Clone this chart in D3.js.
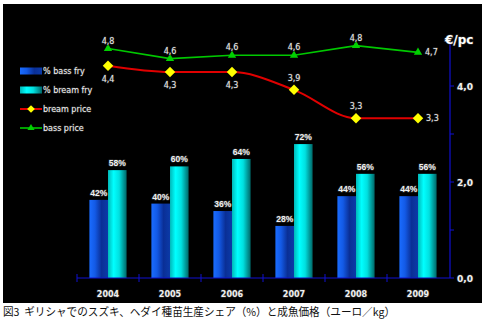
<!DOCTYPE html>
<html><head><meta charset="utf-8">
<script src="https://cdn.jsdelivr.net/npm/d3@7"></script>
<style>
html,body{margin:0;padding:0;background:#fff;}
svg{display:block;}
</style></head>
<body>
<svg id="c" width="486" height="325"></svg>
<script>
const years = ["2004","2005","2006","2007","2008","2009"];
const bassFry = [42,40,36,28,44,44];
const breamFry = [58,60,64,72,56,56];
const bassPrice = [4.78,4.57,4.64,4.64,4.84,4.70];
const breamPrice = [4.42,4.29,4.29,3.92,3.33,3.33];
const priceTicks = [0,1,2,3,4];
const priceTickLabels = ["0,0","","2,0","","4,0"];
const legendItems = ["% bass fry","% bream fry","bream price","bass price"];
const caption = "図3\u00a0\u00a0ギリシャでのスズキ、ヘダイ種苗生産シェア（%）と成魚価格（ユーロ／kg）";

const svg = d3.select("#c");
const defs = svg.append("defs");
function grad(id, stops){
  const g = defs.append("linearGradient").attr("id",id).attr("x1","0").attr("x2","1").attr("y1","0").attr("y2","0");
  stops.forEach(s=>g.append("stop").attr("offset",s[0]).attr("stop-color",s[1]));
}
grad("gBass",[[0,"#1a6cff"],[0.3,"#135ae6"],[0.65,"#0a2f96"],[1,"#0b3aa8"]]);
grad("gBream",[[0,"#00b8b8"],[0.3,"#00ffff"],[0.6,"#00e0e0"],[1,"#006868"]]);

svg.append("rect").attr("x",3).attr("y",4).attr("width",479).attr("height",299).attr("fill","#000");

const x0 = 77, x1 = 449, yBase = 278;
const x = d3.scaleBand().domain(years).range([x0,x1]).paddingInner(0.4).paddingOuter(0.2);
const xs = d3.scaleBand().domain(["bass","bream"]).range([0,x.bandwidth()]);
const yP = d3.scaleLinear().domain([0,5]).range([yBase,38]);
const yPct = d3.scaleLinear().domain([0,100]).range([yBase,92]);

// bars
const g = svg.append("g");
years.forEach((yr,i)=>{
  const bx = x(yr);
  g.append("rect").attr("x",bx+xs("bass")).attr("y",yPct(bassFry[i])).attr("width",xs.bandwidth()).attr("height",yBase-yPct(bassFry[i])).attr("fill","url(#gBass)");
  g.append("rect").attr("x",bx+xs("bream")).attr("y",yPct(breamFry[i])).attr("width",xs.bandwidth()).attr("height",yBase-yPct(breamFry[i])).attr("fill","url(#gBream)");
  g.append("text").attr("x",bx+xs("bass")+xs.bandwidth()/2).attr("y",yPct(bassFry[i])-4).text(bassFry[i]+"%").attr("class","bl");
  g.append("text").attr("x",bx+xs("bream")+xs.bandwidth()/2).attr("y",yPct(breamFry[i])-4).text(breamFry[i]+"%").attr("class","bl");
});
g.selectAll(".bl").attr("text-anchor","middle").attr("font-family","Liberation Sans, Arial, sans-serif").attr("font-weight","bold").attr("font-size",8.5).attr("fill","#f0f0f0")
  .attr("stroke","#333").attr("stroke-width",1.2).attr("paint-order","stroke");

// x axis
const axC = "#1010d0";
svg.append("line").attr("x1",x0).attr("x2",x1+1).attr("y1",yBase).attr("y2",yBase).attr("stroke",axC).attr("stroke-width",1.2);
const step = x.step();
d3.range(years.length).forEach(i=>{
  const tx = x0 + i*step;
  svg.append("line").attr("x1",tx).attr("x2",tx).attr("y1",yBase-4).attr("y2",yBase+4).attr("stroke",axC).attr("stroke-width",1);
});
svg.selectAll(".yr").data(years).enter().append("text")
  .attr("x",d=>x(d)+x.bandwidth()/2).attr("y",297).text(d=>d)
  .attr("text-anchor","middle").attr("font-family","DejaVu Sans, Verdana, sans-serif").attr("font-weight","bold").attr("font-size",8).attr("fill","#f0f0f0")
  .attr("stroke","#333").attr("stroke-width",1.2).attr("paint-order","stroke");

// right axis
const ax = 450;
svg.append("line").attr("x1",ax).attr("x2",ax).attr("y1",yBase).attr("y2",43).attr("stroke",axC).attr("stroke-width",1.2);
priceTicks.forEach((t,i)=>{
  svg.append("line").attr("x1",ax).attr("x2",ax+4).attr("y1",yP(t)).attr("y2",yP(t)).attr("stroke",axC).attr("stroke-width",1);
  if(priceTickLabels[i]) svg.append("text").attr("x",457).attr("y",yP(t)+3.5).text(priceTickLabels[i])
    .attr("font-family","DejaVu Sans, Verdana, sans-serif").attr("font-weight","bold").attr("font-size",9).attr("fill","#f0f0f0")
    .attr("stroke","#333").attr("stroke-width",1.2).attr("paint-order","stroke");
});
svg.append("text").attr("x",445).attr("y",44).text("€/pc")
  .attr("font-family","DejaVu Sans, Verdana, sans-serif").attr("font-weight","bold").attr("font-size",12).attr("fill","#fff")
  .attr("stroke","#333").attr("stroke-width",1.2).attr("paint-order","stroke");

// lines
const cx = d => x(d)+x.bandwidth()/2;
const fmt = v => d3.format(".1f")(v).replace(".",",");
const lineBream = d3.line().x((d,i)=>cx(years[i])).y(d=>yP(d)).curve(d3.curveMonotoneX);
const lineBass = d3.line().x((d,i)=>cx(years[i])).y(d=>yP(d));
svg.append("path").attr("d",lineBass(bassPrice)).attr("fill","none").attr("stroke","#00c800").attr("stroke-width",1.6);
svg.append("path").attr("d",lineBream(breamPrice)).attr("fill","none").attr("stroke","#e00000").attr("stroke-width",2);
const tri = d3.symbol().type(d3.symbolTriangle).size(30);
const dia = d3.symbol().type(d3.symbolSquare).size(55);
bassPrice.forEach((v,i)=>{
  svg.append("path").attr("d",tri()).attr("transform",`translate(${cx(years[i])},${yP(v)})`).attr("fill","#00d000");
});
breamPrice.forEach((v,i)=>{
  svg.append("path").attr("d",dia()).attr("transform",`translate(${cx(years[i])},${yP(v)}) rotate(45)`).attr("fill","#ffff00");
});
const lblStyle = s => s.attr("font-family","DejaVu Sans, Verdana, sans-serif").attr("font-size",8).attr("fill","#e8e8e8")
  .attr("stroke","#333").attr("stroke-width",1).attr("paint-order","stroke");
bassPrice.forEach((v,i)=>{
  const last = i===years.length-1;
  const t = svg.append("text").text(fmt(v))
    .attr("x", last ? cx(years[i])+7 : cx(years[i]))
    .attr("y", last ? yP(v)+3 : yP(v)-5)
    .attr("text-anchor", last ? "start" : "middle");
  lblStyle(t);
});
breamPrice.forEach((v,i)=>{
  const last = i===years.length-1;
  const below = i<3;
  const t = svg.append("text").text(fmt(v))
    .attr("x", last ? cx(years[i])+8 : cx(years[i]))
    .attr("y", last ? yP(v)+3 : (below ? yP(v)+16 : yP(v)-9))
    .attr("text-anchor", last ? "start" : "middle");
  lblStyle(t);
});

// legend
const lg = svg.append("g");
const rowsY = [71,90,109,128];
lg.append("rect").attr("x",20).attr("y",rowsY[0]-3.5).attr("width",22).attr("height",7).attr("fill","url(#gBass)");
lg.append("rect").attr("x",20).attr("y",rowsY[1]-3.5).attr("width",22).attr("height",7).attr("fill","url(#gBream)");
lg.append("line").attr("x1",20).attr("x2",42).attr("y1",rowsY[2]).attr("y2",rowsY[2]).attr("stroke","#e00000").attr("stroke-width",2);
lg.append("path").attr("d",d3.symbol().type(d3.symbolSquare).size(30)()).attr("transform",`translate(31,${rowsY[2]}) rotate(45)`).attr("fill","#ffff00");
lg.append("line").attr("x1",20).attr("x2",42).attr("y1",rowsY[3]).attr("y2",rowsY[3]).attr("stroke","#00c800").attr("stroke-width",1.6);
lg.append("path").attr("d",d3.symbol().type(d3.symbolTriangle).size(22)()).attr("transform",`translate(31,${rowsY[3]})`).attr("fill","#00d000");
legendItems.forEach((t,i)=>{
  lblStyle(lg.append("text").attr("x",43).attr("y",rowsY[i]+3).text(t)).attr("fill","#f0f0f0");
});

// caption
svg.append("text").attr("x",3).attr("y",316).text(caption)
  .attr("textLength",392).attr("lengthAdjust","spacingAndGlyphs")
  .attr("font-family","Noto Sans CJK JP, sans-serif").attr("font-size",11).attr("fill","#111");
</script>
</body></html>
